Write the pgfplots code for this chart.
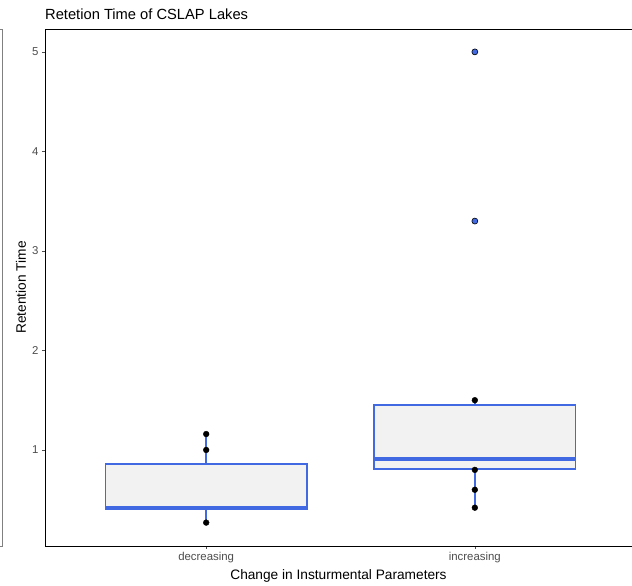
\documentclass[border=0pt]{standalone}
\usepackage{pgfplots}
\pgfplotsset{compat=1.18}
\usepgfplotslibrary{statistics}
\usepackage{fontspec}
\setmainfont{Liberation Sans}
\definecolor{royal}{HTML}{4169E1}
\definecolor{boxfill}{HTML}{F2F2F2}
\definecolor{tickgray}{HTML}{4D4D4D}
\begin{document}
\begin{tikzpicture}
\useasboundingbox (0,0) rectangle (632pt,586pt);
\draw[gray, line width=0.9pt] (0,557pt) -- (2pt,557pt) -- (2pt,40pt) -- (0,40pt);
\node[anchor=base west, font=\fontsize{14.7}{17}\selectfont, inner sep=0pt] at (45pt,566pt) {Retetion Time of CSLAP Lakes};
\begin{axis}[
  at={(45pt,40pt)}, anchor=south west, scale only axis,
  width=587pt, height=517pt,
  xmin=-0.6, xmax=1.585, ymin=0.035, ymax=5.23,
  axis x line*=box, axis y line*=left,
  axis line style={-, black, line width=0.8pt},
  xtick pos=bottom, ytick pos=left,
  xtick={0,1}, xticklabels={decreasing,increasing},
  ytick={1,2,3,4,5},
  tick align=outside, major tick length=3pt,
  tick style={tickgray, line width=0.6pt},
  /pgf/number format/assume math mode=true,
  tick label style={font=\fontsize{11.4}{13}\selectfont, text=tickgray},
  xlabel={Change in Insturmental Parameters},
  ylabel={Retention Time},
  label style={font=\fontsize{13.7}{16}\selectfont},
  xlabel style={at={(axis description cs:0.5,-0.058)}, anchor=center},
  ylabel style={at={(axis description cs:-0.041,0.5)}, anchor=center},
  boxplot/draw direction=y,
  boxplot/every box/.style={draw=royal, fill=boxfill, line width=1.6pt},
  boxplot/every whisker/.style={draw=royal, line width=1.6pt},
  boxplot/every median/.style={draw=royal, line width=4pt},
  clip=false,
]
% observations visible outside the boxes
\addplot[only marks, mark=*, mark size=2.9pt, black] coordinates {
  (0,1.16) (0,1.0) (0,0.27)
  (1,1.5) (1,0.8) (1,0.6) (1,0.42)
};
% boxplots
\addplot[line width=1.6pt, draw=royal, boxplot prepared={draw position=0, lower whisker=0.27, lower quartile=0.40,
    median=0.415, upper quartile=0.86, upper whisker=1.16, box extend=0.75, whisker extend=0}]
  coordinates {};
\addplot[line width=1.6pt, draw=royal, boxplot prepared={draw position=1, lower whisker=0.42, lower quartile=0.81,
    median=0.905, upper quartile=1.45, upper whisker=1.5, box extend=0.75, whisker extend=0}]
  coordinates {};
% outliers
\addplot[only marks, mark=*, mark size=3pt, draw=black, fill=royal, mark options={line width=0.6pt}] coordinates {
  (1,3.3) (1,5.0)
};
\end{axis}
\end{tikzpicture}
\end{document}
